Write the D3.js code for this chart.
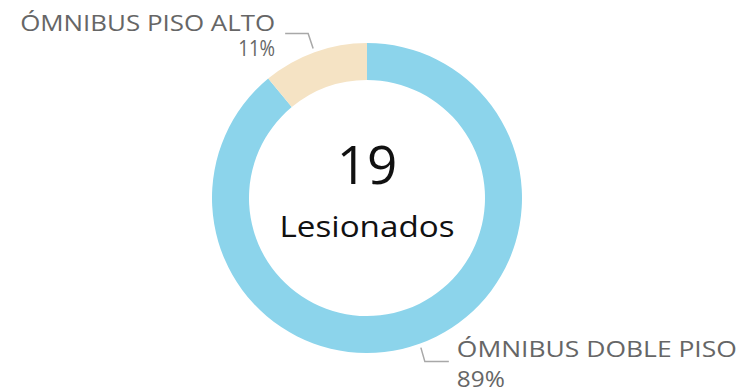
<!DOCTYPE html>
<html>
<head>
<meta charset="utf-8">
<script src="https://cdn.jsdelivr.net/npm/d3@7"></script>
<style>
  html, body { margin: 0; padding: 0; background: #fff; }
  svg { display: block; }
  text { font-family: "Open Sans", "Noto Sans", sans-serif; font-weight: 400; }
</style>
</head>
<body>
<svg id="chart" width="742" height="390"></svg>
<script>
// Injured people by bus type
const categories = ["ÓMNIBUS DOBLE PISO", "ÓMNIBUS PISO ALTO"];
const percents = [89, 11];
const colors = ["#8CD4EB", "#F5E3C4"];
const totalInjured = 19;
const centerLabel = "Lesionados";

const width = 742, height = 390;
const cx = 367, cy = 198;
const outerR = 155, innerR = 118;

const svg = d3.select("#chart");
const g = svg.append("g").attr("transform", `translate(${cx},${cy})`);

const data = categories.map((c, i) => ({ name: c, value: percents[i], color: colors[i] }));

const pie = d3.pie().value(d => d.value).sort(null);
const arc = d3.arc().innerRadius(innerR).outerRadius(outerR);
const arcs = pie(data);

g.selectAll("path.slice")
  .data(arcs)
  .join("path")
  .attr("class", "slice")
  .attr("d", arc)
  .attr("fill", d => d.data.color);

// Leader lines and labels
const lineColor = "#a8a8a8";
const textColor = "#666666";

// point on a circle at the slice's mid angle
function polar(a, r) { return [r * Math.sin(a), -r * Math.cos(a)]; }

arcs.forEach((d, i) => {
  const mid = (d.startAngle + d.endAngle) / 2;
  const p0 = polar(mid, outerR + 4);
  const rightSide = Math.sin(mid) > 0;
  const down = Math.cos(mid) < 0;
  const p1 = [p0[0] + (rightSide ? 4 : -5), p0[1] + (down ? 14 : -15)];
  const p2 = [p1[0] + (rightSide ? 24 : -23), p1[1]];
  g.append("polyline")
    .attr("points", [p0, p1, p2].map(p => p.join(",")).join(" "))
    .attr("fill", "none")
    .attr("stroke", lineColor)
    .attr("stroke-width", 1.5);

  const tx = p2[0] + (rightSide ? 8 : -10);
  const anchor = rightSide ? "start" : "end";
  const nameY = rightSide ? p2[1] - 5 : p2[1] - 2;
  const pctY = rightSide ? p2[1] + 25 : p2[1] + 23;
  const nameLen = rightSide ? 280 : 255;

  g.append("text")
    .attr("x", tx).attr("y", nameY)
    .attr("text-anchor", anchor)
    .attr("font-size", 22.5)
    .attr("fill", textColor)
    .attr("textLength", nameLen)
    .attr("lengthAdjust", "spacingAndGlyphs")
    .text(d.data.name);

  g.append("text")
    .attr("x", tx).attr("y", pctY)
    .attr("text-anchor", anchor)
    .attr("font-size", 21.5)
    .attr("fill", textColor)
    .attr("textLength", rightSide ? 48 : 37)
    .attr("lengthAdjust", "spacingAndGlyphs")
    .text(d.data.value + "%");
});

// Center total
g.append("text")
  .attr("x", 0).attr("y", -14)
  .attr("text-anchor", "middle")
  .attr("font-size", 53)
  .attr("fill", "#111")
  .text(totalInjured);

g.append("text")
  .attr("x", 0).attr("y", 39)
  .attr("text-anchor", "middle")
  .attr("font-size", 29)
  .attr("fill", "#111")
  .attr("textLength", 175)
  .attr("lengthAdjust", "spacingAndGlyphs")
  .text(centerLabel);
</script>
</body>
</html>
